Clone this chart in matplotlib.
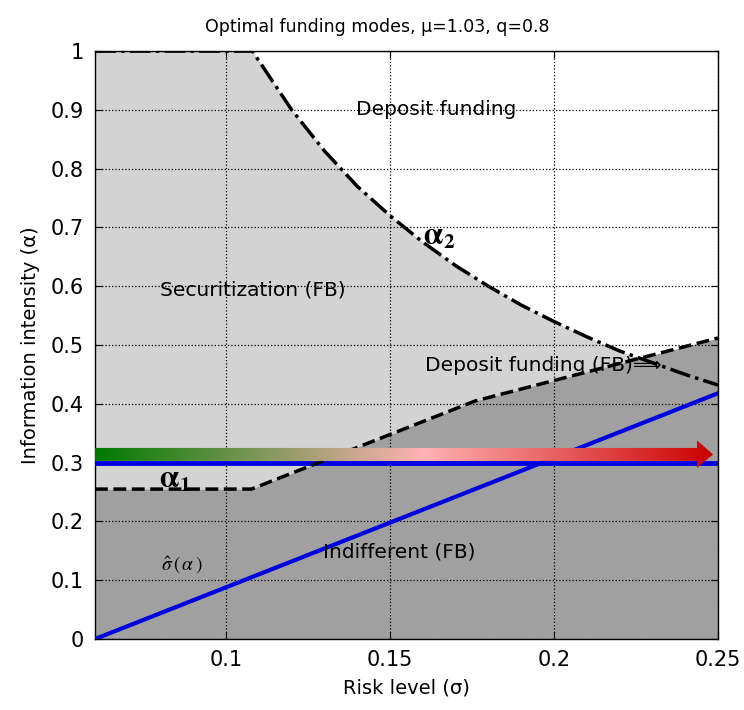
import numpy as np
import matplotlib
matplotlib.use("Agg")
import matplotlib.pyplot as plt
from matplotlib.colors import LinearSegmentedColormap
from matplotlib.patches import Polygon

plt.rcParams['font.family'] = ['DejaVu Sans']
plt.rcParams['mathtext.fontset'] = 'stix'

# boundaries
sigma_a1 = [0.06, 0.1077, 0.176, 0.25]
alpha_a1 = [0.255, 0.255, 0.405, 0.512]

sigma_a2 = [0.06, 0.108, 0.12, 0.13, 0.14, 0.15, 0.16, 0.17, 0.18, 0.19,
            0.20, 0.21, 0.22, 0.23, 0.24, 0.25]
alpha_a2 = [1.0, 1.0, 0.90, 0.83, 0.77, 0.72, 0.675, 0.635, 0.60, 0.568,
            0.54, 0.514, 0.49, 0.47, 0.45, 0.432]

# sigma-hat(alpha) line
sigma_hat = [0.06, 0.25]
alpha_hat = [0.0, 0.418]

alpha_level = 0.3

xticks = [0.1, 0.15, 0.2, 0.25]
yticks = [0, 0.1, 0.2, 0.3, 0.4, 0.5, 0.6, 0.7, 0.8, 0.9, 1]

light_gray = '#d3d3d3'
dark_gray = '#a0a0a0'

fig = plt.figure(figsize=(7.44, 7.10), dpi=100)
ax = fig.add_axes([0.1277, 0.1, 0.8373, 0.828])

# fill the regions on a common sigma grid
s = np.linspace(0.06, 0.25, 600)
a1 = np.interp(s, sigma_a1, alpha_a1)
a2 = np.interp(s, sigma_a2, alpha_a2)
ax.fill_between(s, 0, a2, color=light_gray, lw=0, zorder=1)
ax.fill_between(s, 0, a1, color=dark_gray, lw=0, zorder=1.1)

ax.grid(True, linestyle=':', color='black', linewidth=0.9, zorder=2)
ax.set_axisbelow(False)

ax.plot(sigma_hat, alpha_hat, color='#0000e0', lw=3, zorder=3)
ax.axhline(alpha_level, color='#0000e0', lw=3.5, zorder=3)
ax.plot(sigma_a1, alpha_a1, color='black', ls='--', lw=2.5, zorder=4)
ax.plot(sigma_a2, alpha_a2, color='black', lw=2.5, zorder=4,
        dashes=(6, 1.5, 1, 1.5))

# gradient arrow
cmap = LinearSegmentedColormap.from_list(
    'arrow', [(0.0, '#007a00'), (0.53, '#ffb3b3'), (1.0, '#cc0000')])
x0, x1, xh = 0.06, 0.2485, 0.2436
yb, yt = 0.303, 0.325
hb, ht = 0.291, 0.338
ym = (yb + yt) / 2
arrow = Polygon([(x0, yb), (xh, yb), (xh, hb), (x1, ym), (xh, ht),
                 (xh, yt), (x0, yt)], closed=True, transform=ax.transData,
                facecolor='none', edgecolor='none')
ax.add_patch(arrow)
grad = np.linspace(0, 1, 256).reshape(1, -1)
im = ax.imshow(grad, cmap=cmap, aspect='auto', extent=[x0, x1, hb, ht],
               origin='lower', zorder=5, interpolation='bilinear')
im.set_clip_path(arrow)

# labels inside the plot
fs = 14.5
ax.text(0.1395, 0.9, 'Deposit funding', fontsize=fs, va='center')
ax.text(0.0799, 0.594, 'Securitization (FB)', fontsize=fs, va='center')
ax.text(0.1605, 0.465, 'Deposit funding (FB)\u27f9', fontsize=fs,
        va='center')
ax.text(0.1296, 0.148, 'Indifferent (FB)', fontsize=fs, va='center')
ax.text(0.1600, 0.685, r'$\mathbf{\alpha_2}$', fontsize=22, va='center')
ax.text(0.0795, 0.272, r'$\mathbf{\alpha_1}$', fontsize=22, va='center')
ax.text(0.0800, 0.125, r'$\hat{\sigma}\,(\,\alpha\,)$', fontsize=14,
        va='center')

ax.set_xlim(0.06, 0.25)
ax.set_ylim(0, 1)
ax.set_xticks(xticks)
ax.set_xticklabels([str(t) for t in xticks])
ax.set_yticks(yticks)
ax.set_yticklabels([str(t) for t in yticks])
ax.tick_params(direction='in', length=5, top=True, right=True,
               labelsize=15, pad=8)
for sp in ax.spines.values():
    sp.set_linewidth(1.0)

ax.set_xlabel('Risk level (\u03c3)', fontsize=14, labelpad=6)
ax.set_ylabel('Information intensity (\u03b1)', fontsize=14, labelpad=8)
ax.set_title('Optimal funding modes, \u03bc=1.03, q=0.8', fontsize=12.5,
             pad=14, x=0.453)

fig.savefig('out.png', dpi=100)
